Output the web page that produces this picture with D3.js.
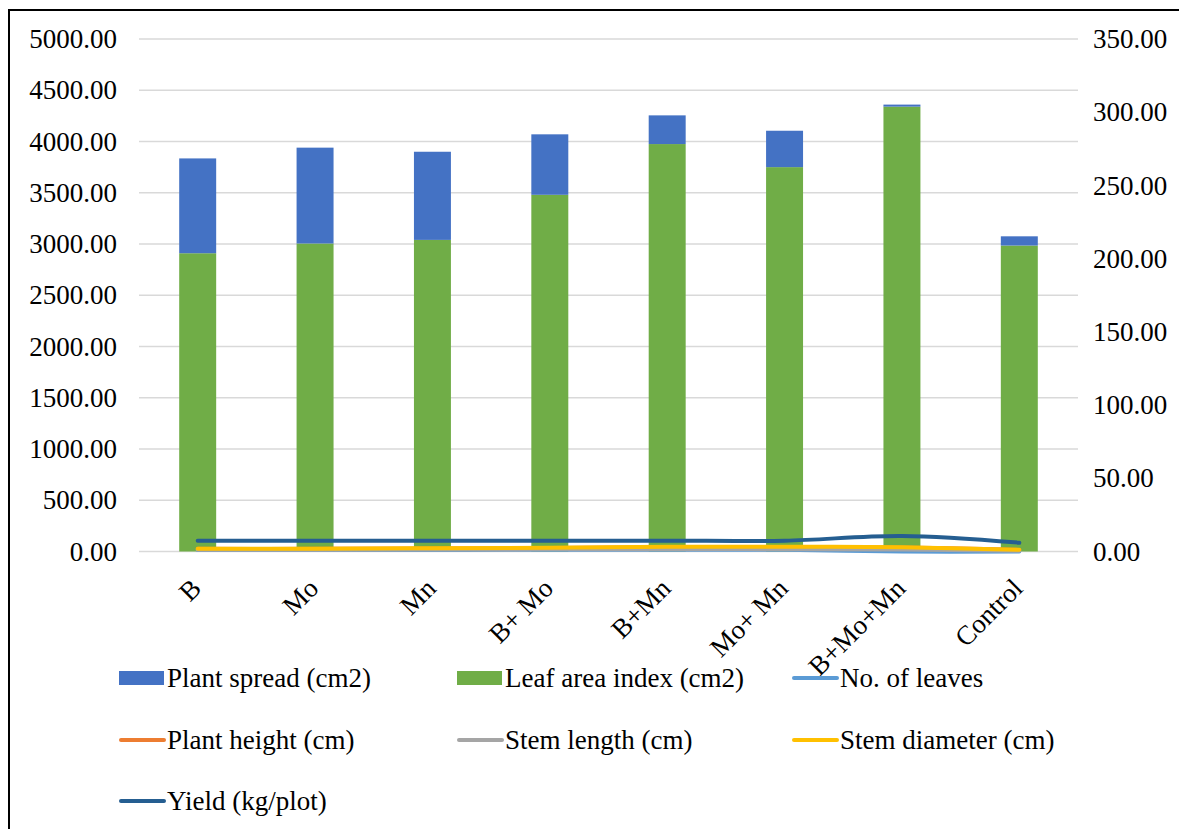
<!DOCTYPE html>
<html>
<head>
<meta charset="utf-8">
<script src="https://cdn.jsdelivr.net/npm/d3@7"></script>
<style>
  body { margin: 0; background: #fff; font-family: "Liberation Serif", serif; }
  svg, svg text { font-family: "Liberation Serif", "Times New Roman", serif !important; }
</style>
</head>
<body>
<div id="chart"></div>
<script>
// Treatments on the x axis
var categories = ["B", "Mo", "Mn", "B+ Mo", "B+Mn", "Mo+ Mn", "B+Mo+Mn", "Control"];

// Bar series (left axis)
var leafArea    = [2910, 3005, 3040, 3480, 3975, 3750, 4340, 2985];
var plantSpread = [925, 935, 860, 590, 280, 355, 20, 90];

// Line series (right axis)
var noLeaves    = [1.0, 1.0, 1.0, 1.2, 1.2, 1.2, 0.0, 0.0];
var plantHeight = [1.8, 1.8, 2.0, 2.4, 3.0, 3.0, 2.7, 1.1];
var stemLength  = [1.2, 1.2, 1.3, 1.5, 1.6, 1.6, 1.3, 0.5];
var stemDiam    = [1.9, 1.9, 2.2, 2.6, 3.2, 3.3, 2.9, 1.2];
var yieldKg     = [7.4, 7.4, 7.4, 7.4, 7.4, 7.4, 10.6, 6.0];

var leftTicks  = [0, 500, 1000, 1500, 2000, 2500, 3000, 3500, 4000, 4500, 5000];
var rightTicks = [0, 50, 100, 150, 200, 250, 300, 350];

var width = 1179, height = 829;
var plot = { left: 139, right: 1078, top: 39, bottom: 551.5 };

var svg = d3.select("#chart").append("svg")
    .attr("width", width)
    .attr("height", height)
    .style("font-family", "\"Liberation Serif\"");

// chart frame (right and bottom edges fall outside the picture)
svg.append("rect")
    .attr("x", 9).attr("y", 10)
    .attr("width", width + 20).attr("height", height + 20)
    .attr("fill", "#fff")
    .attr("stroke", "#000")
    .attr("stroke-width", 2);

var x = d3.scaleBand()
    .domain(categories)
    .range([plot.left, plot.right])
    .paddingInner(0.685)
    .paddingOuter(0.3425);

var yL = d3.scaleLinear().domain([0, 5000]).range([plot.bottom, plot.top]);
var yR = d3.scaleLinear().domain([0, 350]).range([plot.bottom, plot.top]);

// gridlines
svg.append("g").selectAll("line")
    .data(leftTicks)
    .enter().append("line")
    .attr("x1", plot.left).attr("x2", plot.right)
    .attr("y1", function(d) { return yL(d); })
    .attr("y2", function(d) { return yL(d); })
    .attr("stroke", "#d9d9d9")
    .attr("stroke-width", 1.3);

// left axis labels
svg.append("g").selectAll("text")
    .data(leftTicks)
    .enter().append("text")
    .attr("x", 117)
    .attr("y", function(d) { return yL(d); })
    .attr("dy", "0.34em")
    .attr("text-anchor", "end")
    .attr("font-size", 27)
    .text(function(d) { return d3.format(".2f")(d); });

// right axis labels
svg.append("g").selectAll("text")
    .data(rightTicks)
    .enter().append("text")
    .attr("x", 1093)
    .attr("y", function(d) { return yR(d); })
    .attr("dy", "0.34em")
    .attr("font-size", 27)
    .text(function(d) { return d3.format(".2f")(d); });

// stacked bars: leaf area at the bottom, plant spread on top
var bars = svg.append("g").selectAll("g")
    .data(categories)
    .enter().append("g");

bars.append("rect")
    .attr("x", function(d) { return x(d); })
    .attr("width", x.bandwidth())
    .attr("y", function(d, i) { return yL(leafArea[i]); })
    .attr("height", function(d, i) { return yL(0) - yL(leafArea[i]); })
    .attr("fill", "#70ad47");

bars.append("rect")
    .attr("x", function(d) { return x(d); })
    .attr("width", x.bandwidth())
    .attr("y", function(d, i) { return yL(leafArea[i] + plantSpread[i]); })
    .attr("height", function(d, i) { return yL(leafArea[i]) - yL(leafArea[i] + plantSpread[i]); })
    .attr("fill", "#4472c4");

// lines
var lineSeries = [
    { name: "No. of leaves",       values: noLeaves,    color: "#5b9bd5" },
    { name: "Plant height (cm)",   values: plantHeight, color: "#ed7d31" },
    { name: "Stem length (cm)",    values: stemLength,  color: "#a5a5a5" },
    { name: "Stem diameter (cm)",  values: stemDiam,    color: "#ffc000" },
    { name: "Yield (kg/plot)",     values: yieldKg,     color: "#255e91" }
];

var line = d3.line()
    .x(function(d, i) { return x(categories[i]) + x.bandwidth() / 2; })
    .y(function(d) { return yR(d); })
    .curve(d3.curveCatmullRom);

svg.append("g").selectAll("path")
    .data(lineSeries)
    .enter().append("path")
    .attr("d", function(s) { return line(s.values); })
    .attr("fill", "none")
    .attr("stroke", function(s) { return s.color; })
    .attr("stroke-width", 4)
    .attr("stroke-linecap", "round");

// rotated category labels
svg.append("g").selectAll("text")
    .data(categories)
    .enter().append("text")
    .attr("text-anchor", "end")
    .attr("font-size", 27)
    .attr("transform", function(d) {
        return "translate(" + (x(d) + x.bandwidth() / 2 + 5) + ",590) rotate(-45)";
    })
    .text(function(d) { return d; });

// legend
var legendItems = [
    { name: "Plant spread (cm2)",     color: "#4472c4", type: "bar",  col: 0, row: 0 },
    { name: "Leaf area index (cm2)",  color: "#70ad47", type: "bar",  col: 1, row: 0 },
    { name: "No. of leaves",          color: "#5b9bd5", type: "line", col: 2, row: 0 },
    { name: "Plant height (cm)",      color: "#ed7d31", type: "line", col: 0, row: 1 },
    { name: "Stem length (cm)",       color: "#a5a5a5", type: "line", col: 1, row: 1 },
    { name: "Stem diameter (cm)",     color: "#ffc000", type: "line", col: 2, row: 1 },
    { name: "Yield (kg/plot)",        color: "#255e91", type: "line", col: 0, row: 2 }
];
var legendX = [119, 457, 792];
var legendY = [678, 740, 801];

var leg = svg.append("g").selectAll("g")
    .data(legendItems)
    .enter().append("g")
    .attr("transform", function(d) { return "translate(" + legendX[d.col] + "," + legendY[d.row] + ")"; });

leg.filter(function(d) { return d.type == "bar"; })
    .append("rect")
    .attr("x", 0).attr("y", -7)
    .attr("width", 45).attr("height", 14)
    .attr("fill", function(d) { return d.color; });

leg.filter(function(d) { return d.type == "line"; })
    .append("line")
    .attr("x1", 2).attr("x2", 45)
    .attr("y1", 0).attr("y2", 0)
    .attr("stroke", function(d) { return d.color; })
    .attr("stroke-width", 4)
    .attr("stroke-linecap", "round");

leg.append("text")
    .attr("x", 48)
    .attr("dy", "0.34em")
    .attr("font-size", 27)
    .text(function(d) { return d.name; });
</script>
</body>
</html>
